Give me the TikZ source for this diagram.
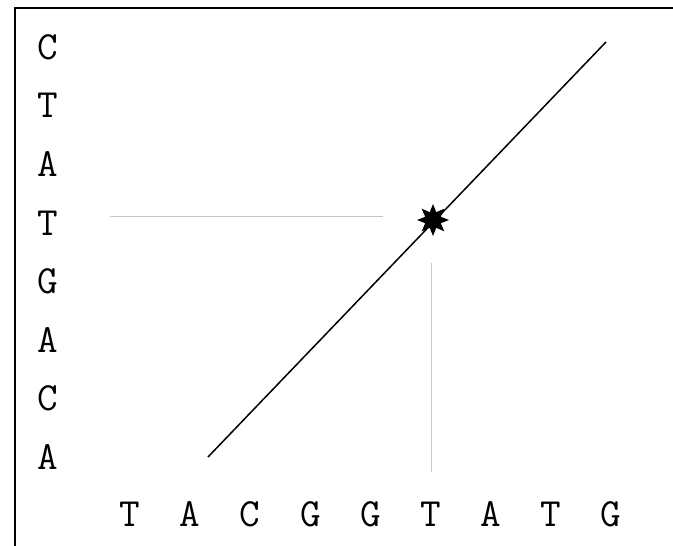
\documentclass[tikz,border=0pt]{standalone}
\usetikzlibrary{shapes.geometric}
\begin{document}
\begin{tikzpicture}[x=1pt,y=-1pt,
  base/.style={font=\ttfamily\fontsize{40}{40}\selectfont, inner sep=0pt, anchor=center},
  guide/.style={draw=gray!45, line width=0.5pt},
  frame/.style={line width=2pt},
  diag/.style={line width=1.5pt}]
\useasboundingbox (0,0) rectangle (673,546);
\draw[frame] (15,546) -- (15,8) -- (673,8);
% left sequence
\foreach \c [count=\i from 0] in {C,T,A,T,G,A,C,A}
  \node[base] (l\i) at (48,{47+\i*58.6}) {\c};
% bottom sequence
\foreach \c [count=\i from 0] in {T,A,C,G,G,T,A,T,G}
  \node[base] (b\i) at ({130+\i*60.1},514) {\c};
\coordinate (d0) at (208,457);
\coordinate (d1) at (606,42);
\draw[diag] (d0) -- (d1);
\node[star, star points=8, star point ratio=1.9, fill=black, minimum size=32pt, inner sep=0pt] (s) at (433,220) {};
\coordinate (h0) at (110,216);
\coordinate (h1) at (383,216);
\coordinate (v0) at (431,263);
\coordinate (v1) at (431,472);
\draw[guide] (h0) -- (h1);
\draw[guide] (v0) -- (v1);
\end{tikzpicture}
\end{document}
